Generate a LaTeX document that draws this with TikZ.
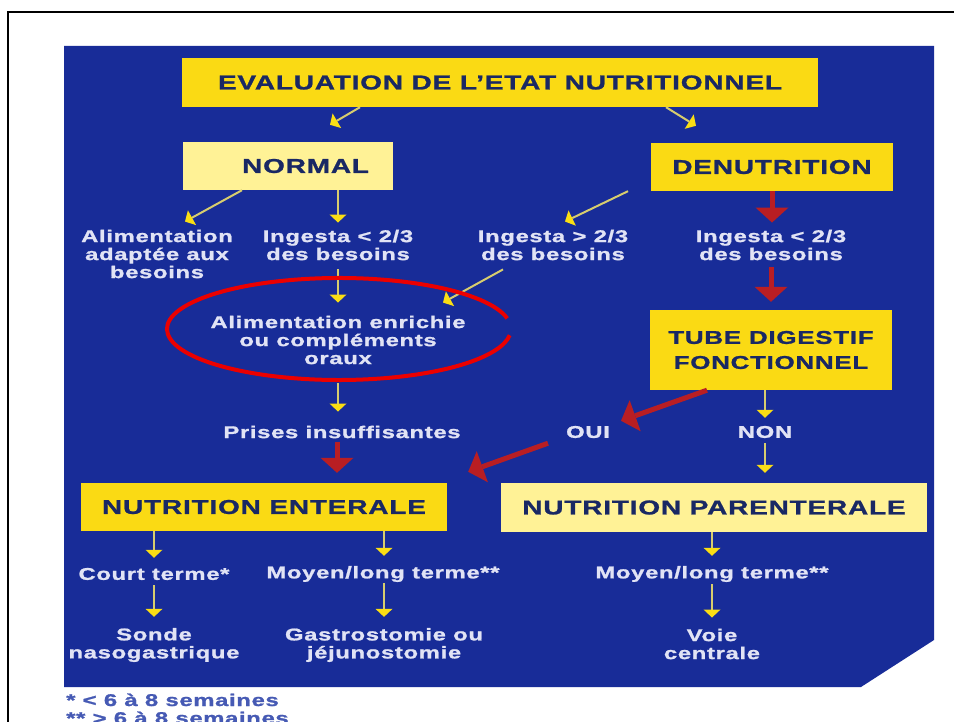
\documentclass[tikz,border=0pt]{standalone}
\usepackage{fontspec}
\setmainfont{Liberation Sans}[FakeStretch=1.4,LetterSpace=4,BoldFeatures={FakeBold=1.2}]
\usetikzlibrary{arrows.meta}
\definecolor{bgblue}{RGB}{24,44,152}
\definecolor{ybright}{RGB}{250,218,20}
\definecolor{ypale}{RGB}{255,242,150}
\definecolor{boxtxt}{RGB}{25,40,100}
\definecolor{lt}{RGB}{225,227,245}
\definecolor{redc}{RGB}{185,30,35}
\definecolor{ellred}{RGB}{235,0,0}
\definecolor{yshaft}{RGB}{215,205,110}
\definecolor{yhead}{RGB}{250,222,20}
\definecolor{footc}{RGB}{70,90,180}
\newcommand\ttlfont{\bfseries\fontsize{20}{25}\selectfont}
\newcommand\bdyfont{\bfseries\fontsize{17}{18}\selectfont}
\tikzset{
  ybox/.style={fill=ybright, text=boxtxt, font=\ttlfont, inner sep=0pt, align=center},
  pbox/.style={ybox, fill=ypale},
  txt/.style={text=lt, font=\bdyfont, align=center, inner sep=1pt},
  yarr/.style={draw=yshaft, line width=2pt, -{Triangle[width=17pt,length=8pt,line width=0pt,color=yhead]}},
  rarr/.style={draw=redc, line width=5pt, -{Triangle[width=33pt,length=15pt,line width=0pt]}}
}
\begin{document}
\begin{tikzpicture}[x=1pt,y=-1pt]
\useasboundingbox (0,0) rectangle (954,722);
\fill[white] (0,0) rectangle (954,722);
\fill[bgblue] (64,46) -- (934,46) -- (934,640) -- (861,687) -- (64,687) -- cycle;
\draw[black,line width=2.5pt] (8,722) -- (8,12) -- (954,12);

% boxes
\node[ybox, minimum width=636pt, minimum height=49pt] (eval) at (500,82.5) {EVALUATION DE L’ETAT NUTRITIONNEL};
\node[pbox, minimum height=48pt, inner xsep=24pt, text width=162pt, align=right] (normal) at (288,166) {NORMAL};
\node[ybox, minimum width=242pt, minimum height=48pt] (denut) at (772,167) {DENUTRITION};
\node[ybox, minimum width=242pt, minimum height=80pt, font=\bfseries\fontsize{18.5}{25}\selectfont] (tube) at (771,350) {TUBE DIGESTIF\\FONCTIONNEL};
\node[ybox, minimum width=366pt, minimum height=48pt] (enter) at (264,507) {NUTRITION ENTERALE};
\node[pbox, minimum width=426pt, minimum height=49pt] (parent) at (714,507.5) {NUTRITION PARENTERALE};

% texts
\node[txt] (adapt) at (157,254) {Alimentation\\adaptée aux\\besoins};
\node[txt] (ing1) at (338,245) {Ingesta < 2/3\\des besoins};
\node[txt] (ing2) at (553,245) {Ingesta > 2/3\\des besoins};
\node[txt] (ing3) at (771,245) {Ingesta < 2/3\\des besoins};
\node[txt] (alim) at (338,340) {Alimentation enrichie\\ou compléments\\oraux};
\node[txt] (prises) at (342,432) {Prises insuffisantes};
\node[txt] (oui) at (588,432) {OUI};
\node[txt] (non) at (765,432) {NON};
\node[txt] (court) at (154,574) {Court terme*};
\node[txt] (moyen1) at (383,574) {Moyen/long terme**};
\node[txt] (moyen2) at (712,574) {Moyen/long terme**};
\node[txt] (sonde) at (154,645) {Sonde\\nasogastrique};
\node[txt] (gastro) at (384,645) {Gastrostomie ou\\jéjunostomie};
\node[txt] (voie) at (712,644) {Voie\\centrale};

\node[anchor=base west, font=\bfseries\fontsize{17}{18}\selectfont, text=footc, align=left, inner sep=0pt] (foot) at (66,724) {* < 6 à 8 semaines\\** > 6 à 8 semaines};

% yellow arrows
\draw[yarr] ([xshift=-140pt]eval.south) -- ([xshift=42pt,yshift=17pt]normal.north);
\draw[yarr] ([xshift=166pt]eval.south) -- ([xshift=-76pt,yshift=17pt]denut.north);
\draw[yarr] ([xshift=-46pt]normal.south) -- ([xshift=28pt,yshift=7pt]adapt.north);
\draw[yarr, shorten >=6pt] (normal.south -| ing1.north) -- (ing1.north);
\draw[yarr] ([xshift=-144pt]denut.south) -- ([xshift=12pt,yshift=7pt]ing2.north);
\draw[yarr, shorten <=8pt, shorten >=12pt] (ing1.south) -- (alim.north);
\draw[yarr] ([xshift=-50pt,yshift=-8pt]ing2.south) -- ([xshift=105pt,yshift=12pt]alim.north);
\draw[yarr, shorten <=18pt, shorten >=13pt] (alim.south) -- (alim.south |- prises.north);
\draw[yarr, shorten >=7pt] (tube.south -| non.north) -- (non.north);
\draw[yarr, shorten <=4pt, shorten >=10pt] (non.south) -- (non.south |- parent.north);
\draw[yarr, shorten >=9pt] (enter.south -| court.north) -- (court.north);
\draw[yarr, shorten >=9pt] (enter.south -| gastro.north) -- (gastro.north |- moyen1.north);
\draw[yarr, shorten <=4pt, shorten >=10pt] (court.south) -- (sonde.north);
\draw[yarr, shorten >=10pt] (moyen1.south -| gastro.north) -- (gastro.north);
\draw[yarr, shorten >=9pt] (parent.south -| moyen2.north) -- (moyen2.north);
\draw[yarr, shorten <=1pt, shorten >=10pt] (moyen2.south) -- (voie.north);

% red arrows
\draw[rarr, shorten >=6pt] (denut.south) -- (denut.south |- ing3.north);
\draw[rarr, shorten <=6pt, shorten >=8pt] (ing3.south) -- (tube.north);
\draw[rarr] ([xshift=-64pt]tube.south) -- ([xshift=10pt,yshift=4pt]oui.north east);
\draw[rarr] ([xshift=-17pt,yshift=-4pt]oui.south west) -- ([xshift=21pt,yshift=11pt]enter.north east);
\draw[rarr, shorten <=3pt, shorten >=10pt] ([xshift=-5pt]prises.south) -- ([xshift=-5pt]prises.south |- enter.north);

% red ellipse
\draw[ellred, line width=4pt] (339,329) ++(12:172pt and 51pt) arc[start angle=12, end angle=353, x radius=172pt, y radius=51pt];
\end{tikzpicture}
\end{document}
